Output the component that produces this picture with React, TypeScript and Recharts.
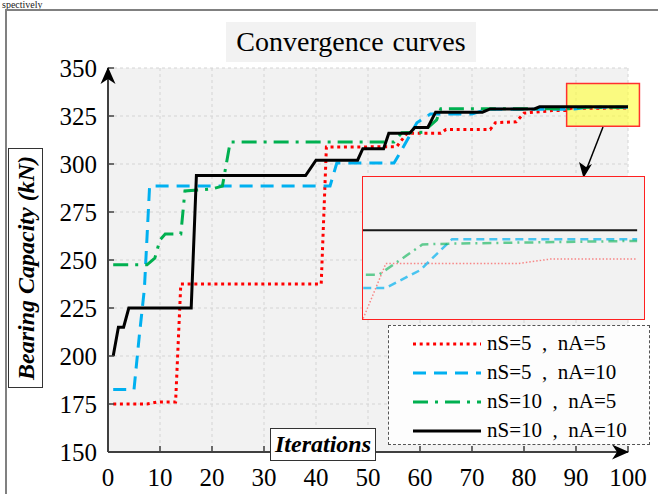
import { LineChart, Line, XAxis, YAxis, CartesianGrid, ReferenceArea } from 'recharts';

const iterTicks = [0, 10, 20, 30, 40, 50, 60, 70, 80, 90, 100];
const capTicks = [150, 175, 200, 225, 250, 275, 300, 325, 350];

// nS=5 , nA=5
const redIter = [1, 7.5, 9.5, 13, 14, 41, 42, 55.5, 57.5, 64, 65, 73.5, 74.5, 78.5, 80, 85.5, 88, 89, 94.8, 96.2, 100];
const redCap = [175, 175, 176, 176, 237.5, 237.5, 308.8, 309, 316, 316, 318, 318, 321.5, 322, 326.5, 327.8, 327.8, 329.05, 329.05, 329.15, 329.15];

// nS=5 , nA=10
const blueIter = [1, 5, 6, 7, 8, 42.7, 44, 55, 56.2, 59.4, 62, 70, 72.8, 88, 89, 90.5, 91.9, 100];
const blueCap = [182.5, 182.5, 210, 235, 288.5, 288.5, 300.5, 300.5, 306, 321.5, 326, 326, 328.5, 328.5, 328.5, 328.9, 329.6, 329.6];

// nS=10 , nA=5
const greenIter = [1, 7.5, 9, 10, 11, 14, 14.8, 20, 22, 23.5, 55, 56.5, 60.5, 63.2, 64, 88, 88.7, 90.6, 91.9, 100];
const greenCap = [247.5, 247.5, 251, 260.5, 263.5, 263.5, 286, 287, 288.5, 311.5, 311.5, 316.3, 316.5, 323, 328.8, 328.8, 328.8, 329.48, 329.5, 329.56];

// nS=10 , nA=10
const blackIter = [1, 2, 3, 4, 16, 17, 38, 40, 48, 49, 53, 54, 58, 59, 61.5, 63, 72, 73.5, 82, 83, 100];
const blackCap = [200, 215, 215, 225, 225, 294, 294, 302, 302, 308, 308, 316, 316, 319, 319, 327, 327, 328.7, 328.7, 329.8, 329.8];

const toPoints = (iters: number[], caps: number[]) => iters.map((it, i) => ({ it, cap: caps[i] }));

const series = [
  { key: 'r', label: 'nS=5  ,  nA=5', data: toPoints(redIter, redCap), color: '#ff0000', dash: '3 3.7', inDash: '1.5 2', width: 3, inWidth: 1.5, inOpacity: 0.45 },
  { key: 'b', label: 'nS=5  ,  nA=10', data: toPoints(blueIter, blueCap), color: '#00b0f0', dash: '13 8', inDash: '8 5', width: 3, inWidth: 2.5, inOpacity: 0.7 },
  { key: 'g', label: 'nS=10  ,  nA=5', data: toPoints(greenIter, greenCap), color: '#00b050', dash: '15 7 3 7', inDash: '9 5 2 5', width: 3, inWidth: 2.5, inOpacity: 0.6 },
  { key: 'k', label: 'nS=10  ,  nA=10', data: toPoints(blackIter, blackCap), color: '#000000', dash: undefined, inDash: undefined, width: 3, inWidth: 1.8, inOpacity: 0.9 },
];

const serif = "'Liberation Serif', serif";
const tickStyle = { fontSize: 25, fontFamily: serif, fill: '#000' };

export default function App() {
  return (
    <div style={{ position: 'absolute', left: 0, top: 0, width: 658, height: 494, overflow: 'hidden', background: '#fff', fontFamily: serif }}>
      <div style={{ position: 'absolute', left: 2, top: 0, fontSize: 10, lineHeight: '10px', color: '#222' }}>spectively</div>
      <div style={{ position: 'absolute', left: 5, top: 9, right: -4, bottom: -4, border: '2px solid #808080' }} />

      <div style={{ position: 'absolute', left: 0, top: 0 }}>
        <LineChart width={658} height={494} margin={{ top: 68, right: 30, bottom: 7, left: 48 }}>
          <CartesianGrid stroke="#d4d4d4" strokeDasharray="3 3" fill="#f2f2f2" />
          <XAxis
            type="number"
            dataKey="it"
            domain={[0, 100]}
            ticks={iterTicks}
            height={35}
            tick={tickStyle}
            tickSize={-6}
            tickMargin={22}
            axisLine={{ stroke: '#404040', strokeWidth: 2 }}
            tickLine={{ stroke: '#404040', strokeWidth: 1.5 }}
          />
          <YAxis
            type="number"
            domain={[150, 350]}
            ticks={capTicks}
            width={60}
            tick={tickStyle}
            tickSize={-6}
            tickMargin={17}
            axisLine={{ stroke: '#404040', strokeWidth: 2 }}
            tickLine={{ stroke: '#404040', strokeWidth: 1.5 }}
          />
          {series.map((s) => (
            <Line
              key={s.key}
              data={s.data}
              dataKey="cap"
              type="linear"
              stroke={s.color}
              strokeWidth={s.width}
              strokeDasharray={s.dash}
              dot={false}
              activeDot={false}
              isAnimationActive={false}
            />
          ))}
          <ReferenceArea
            x1={88.2}
            x2={102.2}
            y1={319.7}
            y2={341.9}
            ifOverflow="visible"
            fill="#ffff33"
            fillOpacity={0.6}
            stroke="#ff3030"
            strokeWidth={1.5}
          />
        </LineChart>
      </div>

      <svg width={658} height={494} style={{ position: 'absolute', left: 0, top: 0, pointerEvents: 'none' }}>
        <polygon points="108,67 100.5,84 108,79 115.5,84" fill="#000" />
        <polygon points="629,452 612,444.5 617,452 612,459.5" fill="#000" />
        <line x1={603} y1={127} x2={587} y2={168} stroke="#000" strokeWidth={1.5} />
        <polygon points="583.5,178 579,162 586,167 592,164" fill="#000" />
      </svg>

      <div style={{ position: 'absolute', left: 362, top: 176, width: 281, height: 142, border: '1.5px solid #ff2020', background: '#f2f2f2' }}>
        <LineChart width={281} height={142} margin={{ top: 0, right: 0, bottom: 0, left: 0 }}>
          <XAxis type="number" dataKey="it" domain={[88, 100.3]} allowDataOverflow hide />
          <YAxis type="number" domain={[327.8, 331]} allowDataOverflow hide />
          {series.map((s) => (
            <Line
              key={s.key}
              data={s.data}
              dataKey="cap"
              type="linear"
              stroke={s.color}
              strokeWidth={s.inWidth}
              strokeOpacity={s.inOpacity}
              strokeDasharray={s.inDash}
              dot={false}
              activeDot={false}
              isAnimationActive={false}
            />
          ))}
        </LineChart>
      </div>

      <div style={{ position: 'absolute', left: 226, top: 22, width: 250, height: 40, background: '#f2f2f2', fontSize: 28, lineHeight: '40px', textAlign: 'center', color: '#000', wordSpacing: 2 }}>
        Convergence curves
      </div>

      <div style={{ position: 'absolute', left: 8, top: 148, width: 35, height: 240, border: '1px solid #333', background: '#fff', boxSizing: 'border-box' }}>
        <div style={{ position: 'absolute', left: '50%', top: '50%', transform: 'translate(-50%, -50%) rotate(-90deg)', whiteSpace: 'nowrap', fontSize: 24, fontWeight: 'bold', fontStyle: 'italic' }}>
          Bearing Capacity (kN)
        </div>
      </div>

      <div style={{ position: 'absolute', left: 270, top: 428, width: 106, height: 33, border: '1px solid #333', background: '#fff', boxSizing: 'border-box', fontSize: 24, fontWeight: 'bold', fontStyle: 'italic', lineHeight: '31px', textAlign: 'center' }}>
        Iterations
      </div>

      <div style={{ position: 'absolute', left: 388, top: 325, width: 262, height: 120, border: '1px dashed #555', background: '#fdfdfd', boxSizing: 'border-box', paddingTop: 3 }}>
        {series.map((s) => (
          <div key={s.key} style={{ display: 'flex', alignItems: 'center', height: 29 }}>
            <svg width={98} height={12}>
              <line x1={24} y1={6} x2={92} y2={6} stroke={s.color} strokeWidth={3} strokeDasharray={s.dash} />
            </svg>
            <span style={{ fontSize: 21, whiteSpace: 'pre', color: '#000' }}>{s.label}</span>
          </div>
        ))}
      </div>
    </div>
  );
}
